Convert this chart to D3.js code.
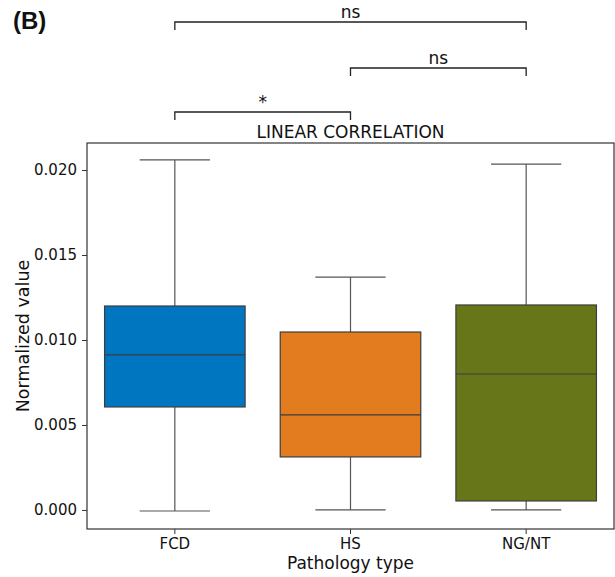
<!DOCTYPE html>
<html>
<head>
<meta charset="utf-8">
<script src="https://cdn.jsdelivr.net/npm/d3@7"></script>
<style>
  body { margin: 0; background: #fff; }
  text { font-family: "DejaVu Sans", sans-serif; fill: #111; }
</style>
</head>
<body>
<svg id="chart"></svg>
<script>
// box stats
const categories = ['FCD', 'HS', 'NG/NT'];
const colors = ['#0076c0', '#e37c1e', '#68761a'];
const whiskerLow = [-0.00006, 0.0, 0.0];
const q1 = [0.00606, 0.00312, 0.00053];
const median = [0.00912, 0.00559, 0.0080];
const q3 = [0.0120, 0.01047, 0.01206];
const whiskerHigh = [0.0206, 0.0137, 0.02035];
const yTicks = [0, 0.005, 0.010, 0.015, 0.020];

// significance brackets
const brackets = [
    { from: 'FCD', to: 'NG/NT', label: 'ns', y: 22 },
    { from: 'HS', to: 'NG/NT', label: 'ns', y: 68 },
    { from: 'FCD', to: 'HS', label: '*', y: 112 }
];

const width = 615, height = 577;
const margin = { top: 143, right: 1, bottom: 48, left: 87 };

const svg = d3.select('#chart')
    .attr('width', width)
    .attr('height', height);

const x = d3.scaleBand()
    .domain(categories)
    .range([margin.left, width - margin.right])
    .paddingInner(0.2)
    .paddingOuter(0.1);

const y = d3.scaleLinear()
    .domain([-0.00112, 0.02159])
    .range([height - margin.bottom, margin.top]);

const boxes = categories.map((c, i) => ({
    cat: c, color: colors[i], lo: whiskerLow[i], q1: q1[i],
    med: median[i], q3: q3[i], hi: whiskerHigh[i]
}));

const cx = d => x(d.cat) + x.bandwidth() / 2;
const bw = x.bandwidth();

const g = svg.selectAll('g.box')
    .data(boxes)
    .enter()
    .append('g')
    .attr('class', 'box');

// whiskers
g.append('line')
    .attr('x1', cx).attr('x2', cx)
    .attr('y1', d => y(d.q3)).attr('y2', d => y(d.hi))
    .attr('stroke', '#555').attr('stroke-width', 1.2);
g.append('line')
    .attr('x1', cx).attr('x2', cx)
    .attr('y1', d => y(d.q1)).attr('y2', d => y(d.lo))
    .attr('stroke', '#555').attr('stroke-width', 1.2);
g.selectAll('line.cap')
    .data(d => [d.lo, d.hi].map(v => ({ v, d })))
    .enter()
    .append('line')
    .attr('class', 'cap')
    .attr('x1', e => cx(e.d) - bw / 4).attr('x2', e => cx(e.d) + bw / 4)
    .attr('y1', e => y(e.v)).attr('y2', e => y(e.v))
    .attr('stroke', '#555').attr('stroke-width', 1.2);

// boxes
g.append('rect')
    .attr('x', d => x(d.cat))
    .attr('width', bw)
    .attr('y', d => y(d.q3))
    .attr('height', d => y(d.q1) - y(d.q3))
    .attr('fill', d => d.color)
    .attr('stroke', '#3d3d3d')
    .attr('stroke-width', 1.2);

// medians
g.append('line')
    .attr('x1', d => x(d.cat)).attr('x2', d => x(d.cat) + bw)
    .attr('y1', d => y(d.med)).attr('y2', d => y(d.med))
    .attr('stroke', '#3d3d3d').attr('stroke-width', 1.2);

// axes
const yAxis = svg.append('g')
    .attr('transform', `translate(${margin.left},0)`)
    .call(d3.axisLeft(y).tickValues(yTicks).tickFormat(d3.format('.3f')).tickSize(5).tickPadding(5));
const xAxis = svg.append('g')
    .attr('transform', `translate(0,${height - margin.bottom})`)
    .call(d3.axisBottom(x).tickSize(5).tickPadding(4));
[xAxis, yAxis].forEach(a => {
    a.select('.domain').remove();
    a.selectAll('line').attr('stroke', '#333');
    a.selectAll('text').style('font-size', '15px').attr('fill', '#111');
});

// frame
svg.append('rect')
    .attr('x', margin.left).attr('y', margin.top)
    .attr('width', width - margin.left - margin.right)
    .attr('height', height - margin.top - margin.bottom)
    .attr('fill', 'none').attr('stroke', '#333').attr('stroke-width', 1.2);

// labels
svg.append('text')
    .attr('x', (margin.left + width - margin.right) / 2).attr('y', 569)
    .attr('text-anchor', 'middle').style('font-size', '17px')
    .text('Pathology type');
svg.append('text')
    .attr('transform', `translate(29,${(margin.top + height - margin.bottom) / 2}) rotate(-90)`)
    .attr('text-anchor', 'middle').style('font-size', '17.5px')
    .text('Normalized value');
svg.append('text')
    .attr('x', (margin.left + width - margin.right) / 2).attr('y', 138)
    .attr('text-anchor', 'middle').style('font-size', '17px')
    .text('LINEAR CORRELATION');
svg.append('text')
    .attr('x', 13).attr('y', 29)
    .style('font-size', '24px').style('font-weight', 'bold')
    .style('font-family', 'Liberation Sans, Arial, sans-serif')
    .text('(B)');

// brackets
const br = svg.selectAll('g.bracket')
    .data(brackets)
    .enter()
    .append('g');
br.append('path')
    .attr('d', d => {
        const a = x(d.from) + bw / 2, b = x(d.to) + bw / 2;
        return `M${a},${d.y + 8}V${d.y}H${b}V${d.y + 8}`;
    })
    .attr('fill', 'none').attr('stroke', '#222').attr('stroke-width', 1.3);
br.append('text')
    .attr('x', d => (x(d.from) + x(d.to) + bw) / 2)
    .attr('y', d => d.y - 4)
    .attr('text-anchor', 'middle').style('font-size', '17px')
    .text(d => d.label);
</script>
</body>
</html>
